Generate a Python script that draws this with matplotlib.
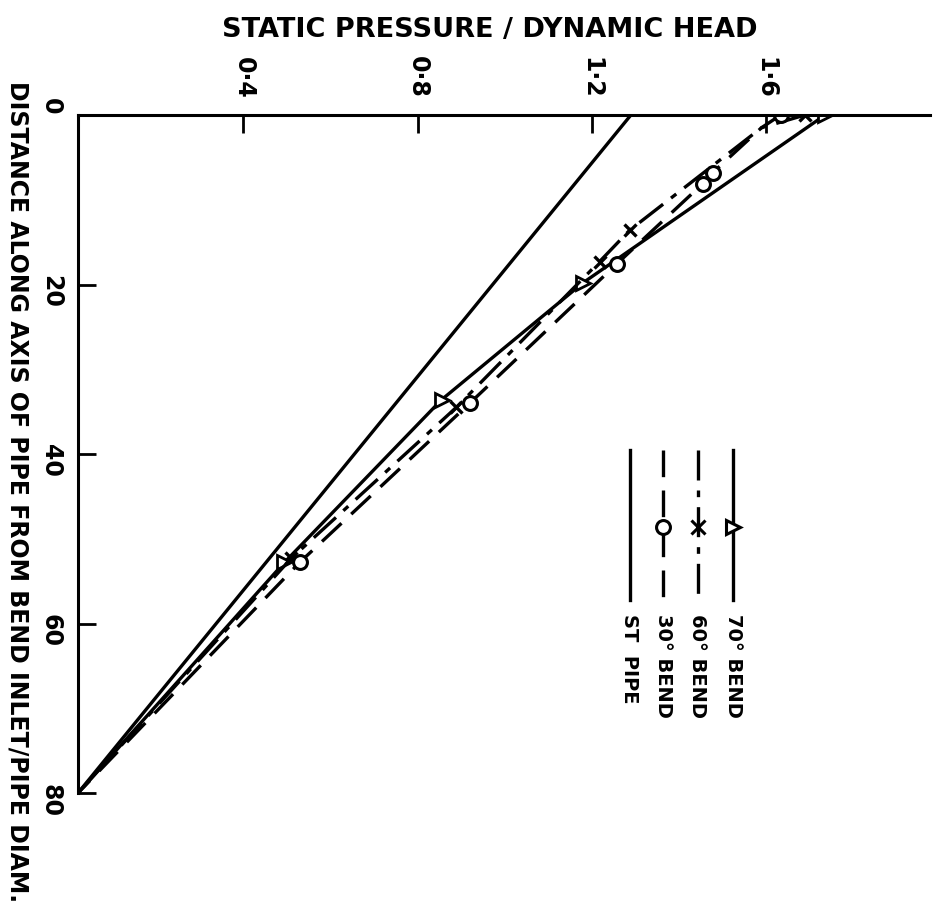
import matplotlib
matplotlib.use('Agg')
import matplotlib.pyplot as plt

# distance along pipe axis (pipe diameters) and static pressure / dynamic head
dist_st = [0, 80]
p_st = [1.29, 0.02]

dist_70 = [0, 19.8, 33.6, 52.8, 80]
p_70 = [1.736, 1.18, 0.855, 0.494, 0.02]
mark_70 = [0, 1, 2, 3]

dist_60 = [0, 1.5, 13.6, 17.3, 34.5, 52.3, 80]
p_60 = [1.69, 1.59, 1.287, 1.218, 0.889, 0.51, 0.02]
mark_60 = [0, 2, 3, 4, 5]

dist_30 = [0, 1.5, 6.8, 8.1, 17.6, 34.0, 52.8, 80]
p_30 = [1.634, 1.59, 1.478, 1.455, 1.257, 0.92, 0.529, 0.02]
mark_30 = [0, 2, 3, 4, 5, 6]

p_ticks = [0.4, 0.8, 1.2, 1.6]
p_ticklabels = ['0·4', '0·8', '1·2', '1·6']
dist_ticks = [0, 20, 40, 60, 80]

plt.rcParams['font.family'] = ['DejaVu Sans']
plt.rcParams['font.weight'] = 'bold'

fig = plt.figure(figsize=(9.35, 9.16), dpi=100)
ax = fig.add_axes([78/935, 1 - 793/916, (930 - 78)/935, (793 - 115)/916])

lw = 2.4
ax.plot(p_st, dist_st, color='black', lw=lw)
ax.plot(p_70, dist_70, color='black', lw=lw, marker='>', markevery=mark_70,
        ms=10, mfc='white', mew=2)
ax.plot(p_60, dist_60, color='black', lw=lw, dashes=[9, 3, 2, 3], marker='x',
        markevery=mark_60, ms=9, mew=2.4)
ax.plot(p_30, dist_30, color='black', lw=lw, dashes=[8, 4], marker='o',
        markevery=mark_30, ms=10, mfc='white', mew=2.2)

ax.set_xlim(0.02, 1.977)
ax.set_ylim(80, 0)
for s in ['right', 'bottom']:
    ax.spines[s].set_visible(False)
for s in ['top', 'left']:
    ax.spines[s].set_linewidth(2.2)

ax.xaxis.tick_top()
ax.set_xticks(p_ticks)
ax.set_xticklabels(p_ticklabels)
ax.set_yticks(dist_ticks)
ax.tick_params(axis='x', direction='in', length=13, width=2, pad=12,
               labelsize=17, labelrotation=-90)
ax.tick_params(axis='y', direction='in', length=13, width=2, pad=11,
               labelsize=17, labelrotation=-90)
# the zero label sits just above the corner
zero_lbl = ax.get_yticklabels()[0]
zero_lbl.set_va('bottom')

fig.text(490/935, 1 - 30/916, 'STATIC PRESSURE / DYNAMIC HEAD',
         ha='center', va='center', fontsize=19.5, fontweight='bold')
fig.text(17/935, 1 - 492/916,
         'DISTANCE ALONG AXIS OF PIPE FROM BEND INLET/PIPE DIAM.',
         ha='center', va='center', rotation=-90, fontsize=17, fontweight='bold')

# legend, drawn rotated like the rest of the figure
def axfrac(px, py):
    return (px - 78) / (930 - 78), 1 - (py - 115) / (793 - 115)

legend_items = [
    (733, dict(ls='-', marker='>', mfc='white'), '70° BEND'),
    (698, dict(dashes=[9, 3, 2, 3], marker='x'), '60° BEND'),
    (663, dict(dashes=[8, 4], marker='o', mfc='white'), '30° BEND'),
    (630, dict(ls='-'), 'ST  PIPE'),
]
for px, style, text in legend_items:
    x0, y0 = axfrac(px, 450)
    _, y1 = axfrac(px, 600)
    _, ym = axfrac(px, 527)
    ax.plot([x0, x0, x0], [y0, ym, y1], color='black', lw=lw,
            transform=ax.transAxes, markevery=[1], ms=10, mew=2.2, clip_on=False,
            **style)
    _, yt = axfrac(px, 614)
    ax.text(x0, yt, text, transform=ax.transAxes, rotation=-90,
            rotation_mode='anchor', ha='left', va='center', fontsize=14,
            fontweight='bold')

fig.savefig('out.png', dpi=100, facecolor='white')
